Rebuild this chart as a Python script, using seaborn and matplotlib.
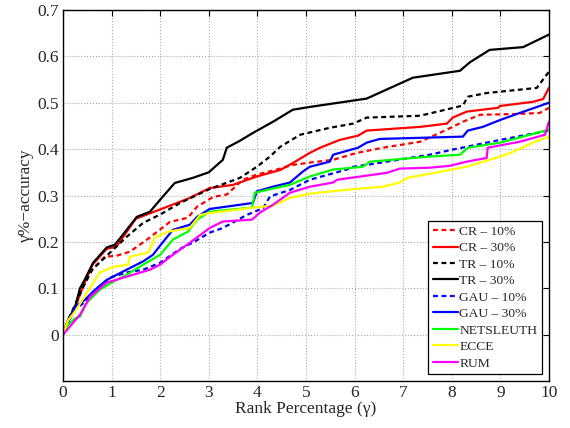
import matplotlib
matplotlib.use("Agg")
import matplotlib.pyplot as plt
import seaborn as sns

# curves (rank percentage vs gamma%-accuracy)
cr10_x = [0, 0.1, 0.25, 0.4, 0.6, 0.86, 1.1, 1.38, 1.73, 2.2, 2.57, 2.76, 3.09, 3.37, 3.7, 3.99,
          4.4, 4.73, 5.08, 5.56, 6.05, 6.58, 7.35, 7.9, 8.23, 8.58, 9.4, 9.81, 10]
cr10_y = [0, 0.03, 0.06, 0.1, 0.14, 0.168, 0.17, 0.179, 0.205, 0.243, 0.252, 0.276, 0.297, 0.302,
          0.334, 0.345, 0.356, 0.366, 0.371, 0.377, 0.392, 0.403, 0.416, 0.442, 0.459, 0.474,
          0.476, 0.478, 0.489]

cr30_x = [0, 0.1, 0.25, 0.4, 0.6, 0.9, 1.1, 1.3, 1.5, 1.8, 2.0, 2.57, 3.02, 3.5, 3.99, 4.47, 4.73,
          5.08, 5.29, 5.7, 6.07, 6.25, 7.35, 7.9, 8.02, 8.31, 8.95, 8.99, 9.67, 9.88, 10]
cr30_y = [0, 0.03, 0.06, 0.1, 0.15, 0.185, 0.19, 0.22, 0.25, 0.262, 0.27, 0.293, 0.316, 0.323,
          0.341, 0.355, 0.37, 0.392, 0.403, 0.42, 0.429, 0.44, 0.448, 0.455, 0.468, 0.481,
          0.489, 0.493, 0.502, 0.508, 0.532]

tr10_x = [0, 0.1, 0.25, 0.4, 0.6, 0.9, 1.0, 1.3, 1.65, 2.0, 2.41, 3.02, 3.64, 3.99, 4.26, 4.47,
          4.88, 5.49, 5.97, 6.25, 7.35, 8.23, 8.33, 8.72, 9.75, 10]
tr10_y = [0, 0.03, 0.065, 0.1, 0.14, 0.17, 0.18, 0.21, 0.241, 0.259, 0.284, 0.314, 0.338, 0.362,
          0.384, 0.405, 0.431, 0.446, 0.455, 0.468, 0.472, 0.494, 0.513, 0.521, 0.532, 0.567]

tr30_x = [0, 0.1, 0.25, 0.35, 0.45, 0.62, 0.9, 1.07, 1.31, 1.52, 1.79, 2.0, 2.3, 2.67, 3.0, 3.29,
          3.37, 3.64, 3.91, 4.32, 4.73, 5.08, 6.25, 7.2, 8.17, 8.37, 8.78, 9.47, 10]
tr30_y = [0, 0.03, 0.06, 0.1, 0.119, 0.155, 0.188, 0.194, 0.226, 0.254, 0.265, 0.291, 0.327,
          0.338, 0.35, 0.377, 0.403, 0.418, 0.435, 0.459, 0.485, 0.491, 0.509, 0.554, 0.569,
          0.587, 0.614, 0.62, 0.647]

gau10_x = [0, 0.1, 0.25, 0.45, 0.7, 0.97, 1.31, 1.65, 2.0, 2.41, 2.7, 3.02, 3.29, 3.78, 4.12, 4.26,
           4.67, 5.08, 5.84, 5.97, 6.25, 7.55, 8.02, 9.0, 10]
gau10_y = [0, 0.025, 0.055, 0.07, 0.1, 0.123, 0.134, 0.14, 0.155, 0.185, 0.2, 0.22, 0.23, 0.258,
           0.273, 0.298, 0.312, 0.334, 0.356, 0.362, 0.366, 0.388, 0.399, 0.42, 0.44]

gau30_x = [0, 0.1, 0.25, 0.45, 0.62, 0.9, 1.31, 1.65, 1.85, 2.06, 2.26, 2.61, 2.76, 3.02, 3.91,
           3.99, 4.32, 4.67, 4.94, 5.08, 5.49, 5.56, 6.07, 6.25, 6.52, 7.55, 8.23, 8.33, 8.64,
           9.0, 9.4, 10]
gau30_y = [0, 0.025, 0.06, 0.075, 0.093, 0.118, 0.14, 0.158, 0.172, 0.2, 0.226, 0.237, 0.254,
           0.271, 0.284, 0.309, 0.319, 0.328, 0.352, 0.362, 0.373, 0.388, 0.403, 0.414, 0.422,
           0.425, 0.427, 0.44, 0.448, 0.463, 0.478, 0.5]

net_x = [0, 0.1, 0.25, 0.35, 0.49, 0.76, 1.03, 1.31, 1.65, 2.0, 2.26, 2.57, 2.76, 3.02, 3.89,
         3.95, 4.32, 4.67, 5.08, 5.56, 6.17, 6.32, 7.55, 8.17, 8.33, 9.0, 10]
net_y = [0, 0.02, 0.035, 0.039, 0.069, 0.097, 0.114, 0.129, 0.151, 0.172, 0.205, 0.222, 0.248,
         0.265, 0.274, 0.306, 0.315, 0.323, 0.341, 0.356, 0.362, 0.373, 0.384, 0.388, 0.403,
         0.414, 0.442]

ecce_x = [0, 0.1, 0.25, 0.49, 0.76, 1.03, 1.34, 1.38, 1.75, 1.89, 2.16, 2.61, 2.82, 3.02, 3.91,
          4.32, 4.67, 5.08, 5.9, 6.58, 6.93, 7.08, 7.65, 8.31, 9.0, 9.26, 9.67, 10]
ecce_y = [0, 0.03, 0.05, 0.09, 0.134, 0.146, 0.151, 0.168, 0.177, 0.209, 0.222, 0.23, 0.258,
          0.262, 0.274, 0.278, 0.295, 0.304, 0.313, 0.319, 0.328, 0.338, 0.349, 0.362, 0.384,
          0.394, 0.414, 0.427]

rum_x = [0, 0.14, 0.35, 0.56, 0.9, 1.31, 1.79, 2.0, 2.26, 2.57, 3.02, 3.29, 3.89, 4.05, 4.32,
         4.67, 5.08, 5.56, 5.64, 6.67, 6.93, 7.55, 7.96, 8.31, 8.72, 8.74, 9.4, 9.92, 10]
rum_y = [0, 0.017, 0.043, 0.082, 0.112, 0.125, 0.14, 0.151, 0.172, 0.195, 0.23, 0.244, 0.248,
         0.263, 0.28, 0.306, 0.319, 0.328, 0.334, 0.349, 0.358, 0.36, 0.364, 0.373, 0.381,
         0.403, 0.416, 0.431, 0.459]

series = [
    ("CR \u2013 10%", cr10_x, cr10_y, "#ff0000", (0, (2.2, 1.6))),
    ("CR \u2013 30%", cr30_x, cr30_y, "#ff0000", "-"),
    ("TR \u2013 10%", tr10_x, tr10_y, "black", (0, (2.2, 1.6))),
    ("TR \u2013 30%", tr30_x, tr30_y, "black", "-"),
    ("GAU \u2013 10%", gau10_x, gau10_y, "#0000ff", (0, (2.2, 1.6))),
    ("GAU \u2013 30%", gau30_x, gau30_y, "#0000ff", "-"),
    ("NETSLEUTH", net_x, net_y, "#00ff00", "-"),
    ("ECCE", ecce_x, ecce_y, "#ffff00", "-"),
    ("RUM", rum_x, rum_y, "#ff00ff", "-"),
]

sns.set_style("white")
plt.rcParams["font.family"] = ["Liberation Serif", "DejaVu Serif"]

fig = plt.figure(figsize=(5.7, 4.28), dpi=100)
ax = fig.add_axes([0.1105, 0.1098, 0.8525, 0.8668])

for label, xs, ys, col, ls in series:
    sns.lineplot(x=xs, y=ys, ax=ax, color=col, linestyle=ls, linewidth=1.6,
                 label=label, estimator=None, sort=False)

ax.set_xlim(0, 10)
ax.set_ylim(-0.1, 0.7)
ax.set_xticks(range(0, 11))
ax.set_yticks([0, 0.1, 0.2, 0.3, 0.4, 0.5, 0.6, 0.7])
ax.set_yticklabels(["0", "0.1", "0.2", "0.3", "0.4", "0.5", "0.6", "0.7"])
ax.grid(True, linestyle=":", color="#aaaaaa", linewidth=0.8)
ax.tick_params(direction="in", length=4, top=True, right=True, labelsize=12.5, pad=3,
               color="black")
for sp in ax.spines.values():
    sp.set_color("black")
    sp.set_linewidth(1.0)

ax.set_xlabel("Rank Percentage (\u03b3)", fontsize=12.5, labelpad=0)
ax.set_ylabel("\u03b3%\u2212accuracy", fontsize=12.5, labelpad=2)

leg = ax.legend(loc="lower right", fontsize=9.7, frameon=True, fancybox=False,
                edgecolor="black", framealpha=1, handlelength=1.9, handletextpad=0.1,
                labelspacing=0.3, borderpad=0.3, borderaxespad=0.55)
leg.get_frame().set_linewidth(0.9)

fig.savefig("out.png", dpi=100)
